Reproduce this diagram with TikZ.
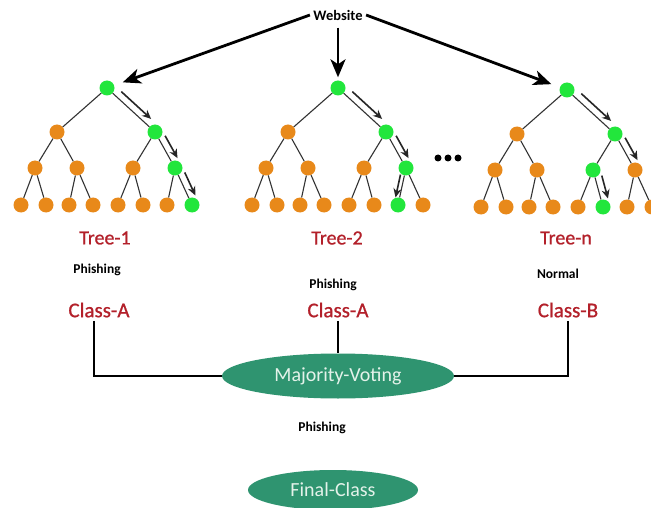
\documentclass[tikz,border=0pt]{standalone}
\usepackage{fontspec}
\setmainfont{Carlito}
\newfontfamily\labfont[FakeBold=0.8]{Carlito}
\usetikzlibrary{arrows.meta,calc,shapes.geometric}
\definecolor{orn}{HTML}{E8891A}
\definecolor{grn}{HTML}{22E63C}
\definecolor{ellg}{HTML}{2F9470}
\definecolor{dred}{HTML}{B3202A}
\definecolor{etext}{HTML}{E4F2EA}
\tikzset{
 tn/.style={circle,fill=orn,minimum size=15pt,inner sep=0pt},
 gn/.style={fill=grn},
 edge/.style={draw=black!80,line width=1.1pt},
 tarrow/.style={draw=black!85,line width=1.6pt,-{Stealth[length=9pt,width=8pt]}},
 bigarrow/.style={line width=2.8pt,-{Stealth[length=18pt,width=15pt,inset=5pt]}},
 treelbl/.style={text=dred,font=\labfont\fontsize{20}{23}\selectfont},
 clslbl/.style={text=dred,font=\labfont\fontsize{21}{24}\selectfont},
 small/.style={font=\bfseries\fontsize{13.5}{16}\selectfont},
 vote/.style={ellipse,fill=ellg,text=etext,font=\fontsize{20}{24}\selectfont,inner sep=0pt},
 link/.style={line width=1.6pt},
 T1r/.style=gn, T1b/.style=gn, T1bb/.style=gn, T1bbb/.style=gn,
 T2r/.style=gn, T2b/.style=gn, T2bb/.style=gn, T2bba/.style=gn,
 T3r/.style=gn, T3b/.style=gn, T3ba/.style=gn, T3bab/.style=gn
}
\newcommand\mktree[3]{%
\begin{scope}[shift={(#2,#3)}]
\node[tn,#1r/.try] (#1r) at (0,0) {};
\node[tn,#1a/.try] (#1a) at (-50,44) {};
\node[tn,#1b/.try] (#1b) at (48,44) {};
\node[tn,#1aa/.try] (#1aa) at (-72,80) {};
\node[tn,#1ab/.try] (#1ab) at (-30,80) {};
\node[tn,#1ba/.try] (#1ba) at (26,80) {};
\node[tn,#1bb/.try] (#1bb) at (68,80) {};
\node[tn,#1aaa/.try] (#1aaa) at (-86,117) {};
\node[tn,#1aab/.try] (#1aab) at (-61,117) {};
\node[tn,#1aba/.try] (#1aba) at (-38,117) {};
\node[tn,#1abb/.try] (#1abb) at (-14,117) {};
\node[tn,#1baa/.try] (#1baa) at (11,117) {};
\node[tn,#1bab/.try] (#1bab) at (36,117) {};
\node[tn,#1bba/.try] (#1bba) at (60,117) {};
\node[tn,#1bbb/.try] (#1bbb) at (85,117) {};
\draw[edge] (#1r)--(#1a) (#1r)--(#1b)
 (#1a)--(#1aa) (#1a)--(#1ab) (#1b)--(#1ba) (#1b)--(#1bb)
 (#1aa)--(#1aaa) (#1aa)--(#1aab) (#1ab)--(#1aba) (#1ab)--(#1abb)
 (#1ba)--(#1baa) (#1ba)--(#1bab) (#1bb)--(#1bba) (#1bb)--(#1bbb);
\end{scope}}
\newcommand\tarr[4]{\draw[tarrow] ($(#1)!0.2!(#2)!#4pt!#3:(#2)$) -- ($(#1)!0.82!(#2)!#4pt!#3:(#2)$);}
\begin{document}
\begin{tikzpicture}[x=1pt,y=-1pt]
\useasboundingbox (0,0) rectangle (651,508);
\clip (0,0) rectangle (651,508);
\fill[white] (0,0) rectangle (651,508);
\mktree{T1}{107}{88}
\mktree{T2}{338}{88}
\mktree{T3}{567}{90}
\tarr{T1r}{T1b}{90}{7}
\tarr{T1b}{T1bb}{90}{7}
\tarr{T1bb}{T1bbb}{90}{7}
\tarr{T2r}{T2b}{90}{7}
\tarr{T2b}{T2bb}{90}{7}
\tarr{T2bb}{T2bba}{-90}{4}
\tarr{T3r}{T3b}{90}{7}
\tarr{T3b}{T3bb}{90}{7}
\tarr{T3ba}{T3bab}{90}{7}
\fill (438,158) circle (3.5pt) (448,158) circle (3.5pt) (458,158) circle (3.5pt);
\node[font=\bfseries\fontsize{14.5}{16}\selectfont] (web) at (338,15) {Website};
\draw[bigarrow,shorten >=9pt] (web.west) -- (T1r);
\draw[bigarrow,shorten <=4pt,shorten >=3pt] (web.south) -- (T2r);
\draw[bigarrow,shorten >=9pt] (web.east) -- (T3r);
\node[treelbl] (t1) at (105,238) {Tree-1};
\node[treelbl] (t2) at (337,238) {Tree-2};
\node[treelbl] (t3) at (566,238) {Tree-n};
\node[small] (p1) at (97,270) {Phishing};
\node[small] (p2) at (333,285) {Phishing};
\node[small] (p3) at (558,274) {Normal};
\node[clslbl] (c1) at (99,310) {Class-A};
\node[clslbl] (c2) at (338,310) {Class-A};
\node[clslbl] (c3) at (568,310) {Class-B};
\node[vote,minimum width=232pt,minimum height=45pt] (mv) at (338,376) {Majority-Voting};
\node[small] (pf) at (322,428) {Phishing};
\node[vote,minimum width=170pt,minimum height=40pt] (fc) at (333,490) {Final-Class};
\draw[link] ([xshift=-5pt]c1.south) |- (mv.west);
\draw[link] (c2.south) -- (mv.north);
\draw[link] (c3.south) |- (mv.east);
\end{tikzpicture}
\end{document}
